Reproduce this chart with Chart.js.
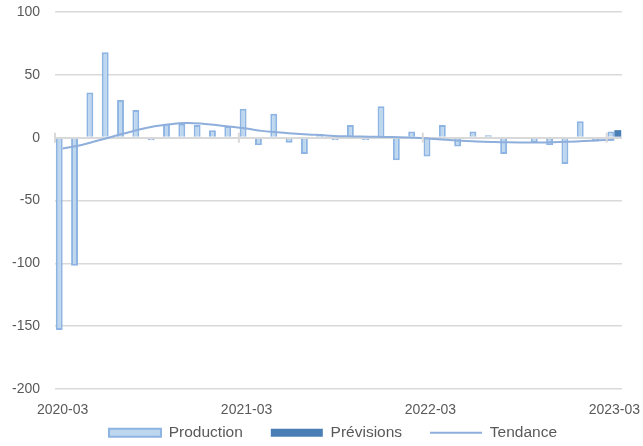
<!DOCTYPE html>
<html>
<head>
<meta charset="utf-8">
<script src="https://cdn.jsdelivr.net/npm/chart.js@4"></script>
<style>
  html, body { margin: 0; padding: 0; background: #fff; }
  #wrap { width: 643px; height: 446px; }
</style>
</head>
<body>
<div id="wrap"><canvas id="chart"></canvas></div>
<script>
// mois de 2020-03 a 2023-03
const months = [
  '2020-03','2020-04','2020-05','2020-06','2020-07','2020-08','2020-09','2020-10','2020-11','2020-12',
  '2021-01','2021-02','2021-03','2021-04','2021-05','2021-06','2021-07','2021-08','2021-09','2021-10',
  '2021-11','2021-12','2022-01','2022-02','2022-03','2022-04','2022-05','2022-06','2022-07','2022-08',
  '2022-09','2022-10','2022-11','2022-12','2023-01','2023-02','2023-03'
];
const production = [
  -153, -102, 36, 68, 30, 22, -2, 11, 11, 10,
  6, 9, 23, -6, 19, -4, -13, 3, -2, 10,
  -2, 25, -18, 5, -15, 10, -7, 5, 2, -13,
  -1, -4, -6, -21, 13, -3, 5
];
const previsions = [
  null, null, null, null, null, null, null, null, null, null,
  null, null, null, null, null, null, null, null, null, null,
  null, null, null, null, null, null, null, null, null, null,
  null, null, null, null, null, null, 6
];
const tendance = [
  -8.6, -6.5, -3.3, 0, 3.3, 6.5, 9, 10.7, 11.7, 11.3,
  10, 8.6, 7.3, 5.4, 4.4, 3.3, 2.5, 2, 1.2, 1,
  0.8, 0.5, 0.4, 0, -0.8, -1.7, -2.5, -3, -3.4, -3.7,
  -3.8, -3.8, -3.6, -3.2, -2.7, -2.1, -1.6
];
const yTicks = [100, 50, 0, -50, -100, -150, -200];

const textColor = '#595959';
const gridColor = '#d9d9d9';
const font = 'Liberation Sans, Arial, sans-serif';

// petits traits verticaux sur l'axe du zero, comme dans Excel
const zeroTicks = {
  id: 'zeroTicks',
  afterDatasetsDraw(chart) {
    const {ctx, scales: {x, y}} = chart;
    const y0 = y.getPixelForValue(0);
    const step = (x.getPixelForValue(1) - x.getPixelForValue(0));
    ctx.save();
    ctx.strokeStyle = gridColor;
    ctx.lineWidth = 2;
    [0, 12, 24, 36].forEach(i => {
      const px = x.getPixelForValue(i) - step / 2;
      ctx.beginPath();
      ctx.moveTo(px, y0 - 5);
      ctx.lineTo(px, y0 + 5);
      ctx.stroke();
    });
    ctx.restore();
  }
};

// hauteur fixe pour la legende, et legende un peu decalee vers la droite
const legendTweak = {
  id: 'legendTweak',
  afterInit(chart) {
    const lg = chart.legend;
    if (!lg) return;
    const origFit = lg.fit;
    lg.fit = function () { origFit.call(this); this.height = 49; };
    const origDraw = lg.draw;
    lg.draw = function () {
      const c = this.ctx;
      c.save();
      c.translate(22, 0);
      origDraw.call(this);
      c.restore();
    };
  }
};

new Chart(document.getElementById('chart'), {
  data: {
    labels: months,
    datasets: [
      {
        type: 'bar',
        label: 'Production',
        data: production,
        backgroundColor: '#bdd7ee',
        borderColor: '#8db4e2',
        borderWidth: 2,
        categoryPercentage: 0.9,
        barPercentage: 1,
        order: 2
      },
      {
        type: 'bar',
        label: 'Prévisions',
        data: previsions,
        backgroundColor: '#4a7fb5',
        borderColor: '#4a7fb5',
        borderWidth: 0,
        categoryPercentage: 0.9,
        barPercentage: 1,
        order: 3
      },
      {
        type: 'line',
        label: 'Tendance',
        data: tendance,
        borderColor: '#8eaedc',
        backgroundColor: '#8eaedc',
        borderWidth: 2,
        pointRadius: 0,
        tension: 0.4,
        order: 1
      }
    ]
  },
  options: {
    responsive: true,
    maintainAspectRatio: false,
    animation: false,
    layout: { padding: { top: 0, right: 21, bottom: 0, left: 0 } },
    plugins: {
      tooltip: { enabled: false },
      legend: {
        position: 'bottom',
        labels: {
          color: textColor,
          font: { family: font, size: 15.5 },
          usePointStyle: true,
          pointStyleWidth: 52,
          boxHeight: 8,
          padding: 28,
          generateLabels(chart) {
            const items = Chart.defaults.plugins.legend.labels.generateLabels(chart);
            items.sort((a, b) => a.datasetIndex - b.datasetIndex);
            items.forEach(it => {
              it.pointStyle = it.text === 'Tendance' ? 'line' : 'rect';
              if (it.text === 'Tendance') it.lineWidth = 2;
            });
            return items;
          }
        }
      }
    },
    scales: {
      x: {
        afterFit: s => {
          s.height = 8;
          s.paddingRight = 0;
          s.paddingLeft = 0;
          // les libelles debordent sur la zone de legende
          s._computeLabelArea = () => undefined;
        },
        grid: { display: false, drawTicks: false },
        border: { display: false },
        ticks: {
          color: textColor,
          font: { family: font, size: 14 },
          autoSkip: false,
          maxRotation: 0,
          padding: 13,
          callback: (v, i) => (i % 12 === 0 ? months[i] : '')
        }
      },
      y: {
        min: -200,
        max: 100,
        afterFit: s => { s.width = 55; s.paddingTop = 12; },
        afterBuildTicks: s => { s.ticks = yTicks.map(v => ({ value: v })); },
        grid: {
          color: gridColor,
          lineWidth: ctx => (ctx.tick && ctx.tick.value === 0 ? 2 : 1.5),
          drawTicks: false
        },
        border: { display: false },
        ticks: {
          color: textColor,
          font: { family: font, size: 14 },
          padding: 15
        }
      }
    }
  },
  plugins: [zeroTicks, legendTweak]
});
</script>
</body>
</html>
